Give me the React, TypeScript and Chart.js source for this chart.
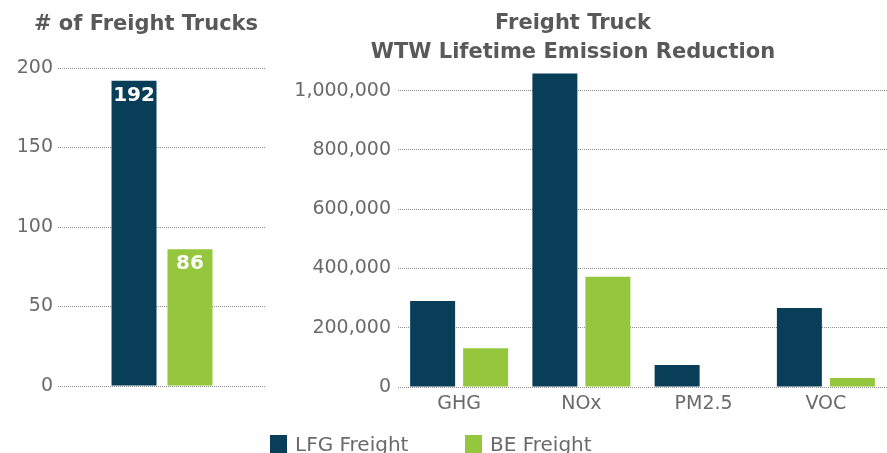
import React, { useEffect, useRef } from 'react';
import { Chart, registerables } from 'chart.js';

Chart.register(...registerables);

// ---- data ----
const truckCategories = [''];
const truckLFG = [192];
const truckBE = [86];
const truckTickValues = [0, 50, 100, 150, 200];

const emissionCategories = ['GHG', 'NOx', 'PM2.5', 'VOC'];
const emissionLFG = [290000, 1058000, 74000, 267000];
const emissionBE = [131000, 372000, 0, 30000];
const emissionTickValues = [0, 200000, 400000, 600000, 800000, 1000000];

const seriesNames = ['LFG Freight', 'BE Freight'];
const leftTitleLines = ['# of Freight Trucks'];
const rightTitleLines = ['Freight Truck', 'WTW Lifetime Emission Reduction'];

// ---- styles ----
const NAVY = '#093E58';
const GREEN = '#94C73D';
const TITLE_COLOR = '#595959';
const TICK_COLOR = '#6a6a6a';
const GRID_COLOR = '#8f8f8f';
const FONT = '"DejaVu Sans", sans-serif';

function makeTextPlugin(draw: (ctx: CanvasRenderingContext2D, chart: any) => void) {
  return {
    id: 'customText',
    afterDraw(chart: any) {
      const ctx = chart.ctx as CanvasRenderingContext2D;
      ctx.save();
      draw(ctx, chart);
      ctx.restore();
    },
  };
}

function drawTitle(ctx: CanvasRenderingContext2D, lines: string[], cx: number, baselines: number[]) {
  ctx.font = `bold 21px ${FONT}`;
  ctx.fillStyle = TITLE_COLOR;
  ctx.textAlign = 'center';
  ctx.textBaseline = 'alphabetic';
  lines.forEach((l, i) => ctx.fillText(l, cx, baselines[i]));
}

export default function App() {
  const leftRef = useRef<HTMLCanvasElement>(null);
  const rightRef = useRef<HTMLCanvasElement>(null);

  useEffect(() => {
    const gridCommon = {
      color: GRID_COLOR,
      lineWidth: 1,
      drawTicks: false,
    };

    const left = new Chart(leftRef.current!, {
      type: 'bar',
      data: {
        labels: truckCategories,
        datasets: [
          { label: seriesNames[0], data: truckLFG, backgroundColor: NAVY, borderWidth: 0 },
          { label: seriesNames[1], data: truckBE, backgroundColor: GREEN, borderWidth: 0 },
        ],
      },
      options: {
        responsive: false,
        animation: false,
        devicePixelRatio: 1,
        layout: { padding: { top: 68, bottom: 67, left: 0, right: 14 } },
        datasets: { bar: { categoryPercentage: 0.538, barPercentage: 0.804 } } as any,
        plugins: { legend: { display: false }, title: { display: false }, tooltip: { enabled: false } },
        scales: {
          x: { display: false },
          y: {
            min: 0,
            max: 200,
            afterFit: (s: any) => { s.width = 58; },
            afterBuildTicks: (s: any) => { s.ticks = truckTickValues.map((v) => ({ value: v })); },
            ticks: { color: TICK_COLOR, font: { family: FONT, size: 19 }, padding: 5 },
            grid: gridCommon,
            border: { display: false, dash: [1, 1] },
          },
        },
      },
      plugins: [
        makeTextPlugin((ctx, chart) => {
          drawTitle(ctx, leftTitleLines, 146, [30]);
          ctx.font = `bold 20px ${FONT}`;
          ctx.fillStyle = '#ffffff';
          ctx.textAlign = 'center';
          ctx.textBaseline = 'middle';
          chart.data.datasets.forEach((ds: any, di: number) => {
            const meta = chart.getDatasetMeta(di);
            meta.data.forEach((el: any, i: number) => {
              ctx.fillText(String(ds.data[i]), el.x, el.y + 15);
            });
          });
        }),
      ],
    });

    const right = new Chart(rightRef.current!, {
      type: 'bar',
      data: {
        labels: emissionCategories,
        datasets: [
          { label: seriesNames[0], data: emissionLFG, backgroundColor: NAVY, borderWidth: 0 },
          { label: seriesNames[1], data: emissionBE, backgroundColor: GREEN, borderWidth: 0 },
        ],
      },
      options: {
        responsive: false,
        animation: false,
        devicePixelRatio: 1,
        layout: { padding: { top: 67, bottom: 0, left: 0, right: 0 } },
        datasets: { bar: { categoryPercentage: 0.867, barPercentage: 0.849 } } as any,
        plugins: { legend: { display: false }, title: { display: false }, tooltip: { enabled: false } },
        scales: {
          x: {
            afterFit: (s: any) => { s.height = 66; },
            ticks: { color: TICK_COLOR, font: { family: FONT, size: 19 }, padding: 6 },
            grid: { display: false, drawTicks: false },
            border: { display: false },
          },
          y: {
            min: 0,
            max: 1080000,
            afterFit: (s: any) => { s.width = 138; },
            afterBuildTicks: (s: any) => { s.ticks = emissionTickValues.map((v) => ({ value: v })); },
            ticks: {
              color: TICK_COLOR,
              font: { family: FONT, size: 19 },
              padding: 7,
              callback: (v: any) => Number(v).toLocaleString('en-US'),
            },
            grid: gridCommon,
            border: { display: false, dash: [1, 1] },
          },
        },
      },
      plugins: [
        makeTextPlugin((ctx) => {
          drawTitle(ctx, rightTitleLines, 573 - 260, [29, 58]);
          const items = [
            { name: seriesNames[0], color: NAVY, x: 10 },
            { name: seriesNames[1], color: GREEN, x: 205 },
          ];
          ctx.font = `20px ${FONT}`;
          ctx.textAlign = 'left';
          ctx.textBaseline = 'alphabetic';
          items.forEach((it) => {
            ctx.fillStyle = it.color;
            ctx.fillRect(it.x, 435, 17, 18);
            ctx.fillStyle = TICK_COLOR;
            ctx.fillText(it.name, it.x + 25, 451);
          });
        }),
      ],
    });

    return () => {
      left.destroy();
      right.destroy();
    };
  }, []);

  return (
    <div
      style={{
        position: 'absolute',
        left: 0,
        top: 0,
        width: 887,
        height: 453,
        overflow: 'hidden',
        background: '#ffffff',
      }}
    >
      <canvas
        ref={leftRef}
        width={280}
        height={453}
        style={{ position: 'absolute', left: 0, top: 0, width: 280, height: 453 }}
      />
      <canvas
        ref={rightRef}
        width={627}
        height={453}
        style={{ position: 'absolute', left: 260, top: 0, width: 627, height: 453 }}
      />
    </div>
  );
}
